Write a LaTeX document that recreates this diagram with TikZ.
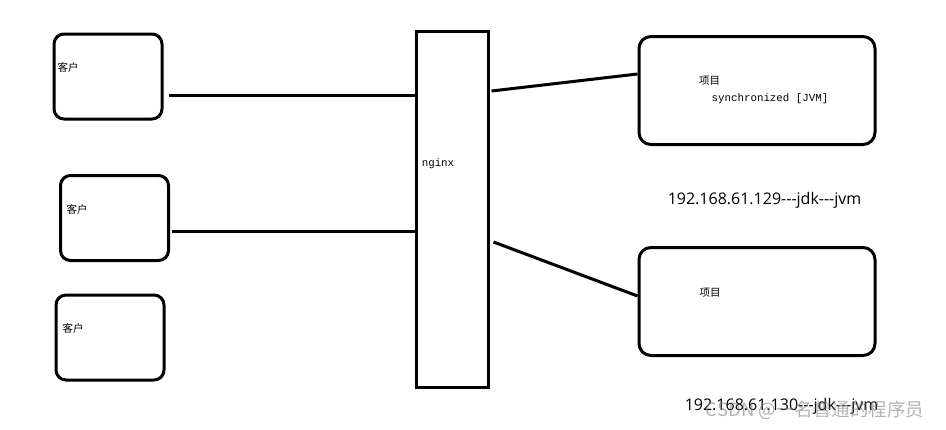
\documentclass[tikz,border=0pt]{standalone}
\usepackage{fontspec}
\setmainfont{Open Sans}
\setmonofont{Liberation Mono}
\newfontfamily\cjk{Noto Sans CJK SC}
\usepackage{tikz}
\usetikzlibrary{positioning,calc}

\begin{document}
\begin{tikzpicture}[x=1pt,y=-1pt,
    clientbox/.style={draw, line width=3pt, rounded corners=10pt, inner sep=0pt, minimum width=108pt, minimum height=85pt},
    projbox/.style={draw, line width=3pt, rounded corners=12pt, inner sep=0pt, minimum width=236pt, minimum height=108pt},
    nginxbox/.style={draw, line width=3pt, inner sep=0pt, minimum width=72pt, minimum height=356pt},
    wire/.style={line width=3pt},
    cnlabel/.style={inner sep=0pt, font=\cjk\fontsize{10.5}{12}\selectfont},
    monolabel/.style={inner sep=0pt, font=\ttfamily\fontsize{10.8}{12}\selectfont},
    iplabel/.style={inner sep=0pt, font=\fontsize{16}{18}\selectfont}]
    \useasboundingbox (0,0) rectangle (946,429);

    \node[clientbox] (c1) at (108,76.5) {};
    \node[clientbox] (c2) at (114.5,218) {};
    \node[clientbox] (c3) at (110,337.5) {};
    \node[cnlabel] (t1) at (68,67.5) {客户};
    \node[cnlabel] (t2) at (77,209) {客户};
    \node[cnlabel] (t3) at (73,328.5) {客户};

    \node[nginxbox] (ngx) at (452,209.5) {};
    \node[monolabel] (tn) at (438,164) {nginx};

    \node[projbox] (p1) at (757,90.5) {};
    \node[projbox] (p2) at (757,301.5) {};
    \node[cnlabel] (tp1) at (709.5,81) {项目};
    \node[monolabel] (sync) at (770,98.5) {synchronized [JVM]};
    \node[cnlabel] (tp2) at (710,292.5) {项目};

    \node[iplabel] (ip1) at (764.5,200) {192.168.61.129-{}-{}-jdk-{}-{}-jvm};
    \node[iplabel] (ip2) at (781.5,406.5) {192.168.61.130-{}-{}-jdk-{}-{}-jvm};
    \node[inner sep=0pt, text=gray, opacity=0.6, font=\cjk\fontsize{18.5}{20}\selectfont] (wm) at (815,410) {CSDN @一名普通的程序员};

    \draw[wire] ($(c1.east)+(5,18.5)$) -- ($(ngx.west)+(0,-114.5)$);
    \draw[wire] ($(c2.east)+(2,13)$) -- ($(ngx.west)+(0,21.5)$);
    \draw[wire] ($(ngx.east)+(2,-118.5)$) -- ($(p1.west)+(0,-16.5)$);
    \draw[wire] ($(ngx.east)+(4,32.5)$) -- ($(p2.west)+(0,-5.5)$);
\end{tikzpicture}
\end{document}
